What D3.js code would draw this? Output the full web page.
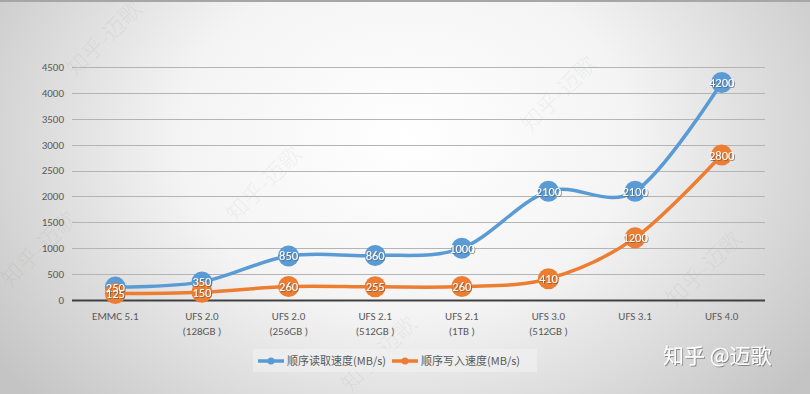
<!DOCTYPE html>
<html>
<head>
<meta charset="utf-8">
<script src="https://cdn.jsdelivr.net/npm/d3@7"></script>
<style>
	body { margin: 0; }
	svg { display: block; }
</style>
</head>
<body>
<svg id="chart" width="810" height="394"></svg>
<script>
const categories = [
	["EMMC 5.1"],
	["UFS 2.0", "(128GB )"],
	["UFS 2.0", "(256GB )"],
	["UFS 2.1", "(512GB )"],
	["UFS 2.1", "(1TB )"],
	["UFS 3.0", "(512GB )"],
	["UFS 3.1"],
	["UFS 4.0"],
]
const readSpeed = [250, 350, 850, 860, 1000, 2100, 2100, 4200]
const writeSpeed = [125, 150, 260, 255, 260, 410, 1200, 2800]
const seriesNames = ["顺序读取速度(MB/s)", "顺序写入速度(MB/s)"]
const yTicks = [0, 500, 1000, 1500, 2000, 2500, 3000, 3500, 4000, 4500]

const config = {
	width: 810,
	height: 394,
	plot: { left: 72, right: 765, top: 67, bottom: 300 },
	colours: ["#5b9bd5", "#ed7d31"],
	markerRadius: 10.5,
	font: "Calibri, 'Liberation Sans Narrow', 'Liberation Sans', Arial, sans-serif",
	cjk: "'Noto Sans CJK SC', 'Microsoft YaHei', sans-serif",
}

const svg = d3.select("#chart")
const defs = svg.append("defs")

// Background: white in the middle, greying to the edges
const bg = defs.append("radialGradient")
	.attr("id", "bg")
	.attr("cx", "50%").attr("cy", "35%")
	.attr("r", "62%")
	.attr("gradientTransform", "translate(0.5,0.35) scale(1,1.6) translate(-0.5,-0.35)")
bg.append("stop").attr("offset", "0%").attr("stop-color", "#ffffff")
bg.append("stop").attr("offset", "45%").attr("stop-color", "#f4f4f4")
bg.append("stop").attr("offset", "100%").attr("stop-color", "#c4c4c4")

const shadow = defs.append("filter").attr("id", "shadow")
	.attr("x", "-20%").attr("y", "-20%").attr("width", "140%").attr("height", "140%")
shadow.append("feDropShadow")
	.attr("dx", 1).attr("dy", 1).attr("stdDeviation", 0.6)
	.attr("flood-color", "#555").attr("flood-opacity", 0.6)

svg.append("rect")
	.attr("width", config.width)
	.attr("height", config.height)
	.attr("fill", "url(#bg)")
svg.append("rect")
	.attr("width", config.width)
	.attr("height", 2)
	.attr("fill", "#a6a6a6")

// Faint diagonal watermarks
const marks = [[105, 40], [265, 185], [560, 95], [705, 270], [380, 355], [40, 250]]
svg.append("g").selectAll("text")
	.data(marks)
	.join("text")
	.attr("transform", d => `translate(${d[0]},${d[1]}) rotate(-45)`)
	.attr("text-anchor", "middle")
	.attr("dominant-baseline", "middle")
	.style("font-family", config.cjk)
	.style("font-size", "22px")
	.attr("fill", "#000")
	.attr("fill-opacity", 0.045)
	.text("知乎-迈歌")

const x = d3.scaleBand()
	.domain(d3.range(categories.length))
	.range([config.plot.left, config.plot.right])
const y = d3.scaleLinear()
	.domain([0, 4500])
	.range([config.plot.bottom, config.plot.top])
const cx = i => x(i) + x.bandwidth() / 2

// Gridlines and y labels
const grid = svg.append("g")
grid.selectAll("line")
	.data(yTicks.slice(1))
	.join("line")
	.attr("x1", config.plot.left).attr("x2", config.plot.right)
	.attr("y1", d => Math.round(y(d)) + 0.5).attr("y2", d => Math.round(y(d)) + 0.5)
	.attr("stroke", "#b4b4b4")
	.attr("stroke-width", 1)
grid.selectAll("text")
	.data(yTicks)
	.join("text")
	.attr("x", 64)
	.attr("y", d => y(d))
	.attr("dy", "0.35em")
	.attr("text-anchor", "end")
	.style("font-family", config.font)
	.style("font-size", "11px")
	.attr("fill", "#595959")
	.text(d => d)

// Baseline
svg.append("line")
	.attr("x1", config.plot.left).attr("x2", config.plot.right)
	.attr("y1", y(0) + 0.5).attr("y2", y(0) + 0.5)
	.attr("stroke", "#404040")
	.attr("stroke-width", 2)

// Category labels
const xLabels = svg.append("g")
	.selectAll("text")
	.data(categories)
	.join("text")
	.attr("x", (d, i) => cx(i))
	.attr("y", 320)
	.attr("text-anchor", "middle")
	.style("font-family", config.font)
	.style("font-size", "11px")
	.attr("fill", "#595959")
xLabels.selectAll("tspan")
	.data(d => d)
	.join("tspan")
	.attr("x", function() { return this.parentNode.getAttribute("x") })
	.attr("dy", (d, i) => i ? 15 : 0)
	.text(d => d)

// Series
const line = d3.line()
	.x((d, i) => cx(i))
	.y(d => y(d))
	.curve(d3.curveCardinal.tension(0))

const series = [readSpeed, writeSpeed]
const groups = svg.append("g")
	.selectAll("g.series")
	.data(series)
	.join("g")
	.attr("class", "series")

groups.append("path")
	.attr("d", d => line(d))
	.attr("fill", "none")
	.attr("stroke", (d, i) => config.colours[i])
	.attr("stroke-width", 3.5)
	.attr("stroke-linecap", "round")

groups.each(function(data, s) {
	d3.select(this).selectAll("circle")
		.data(data)
		.join("circle")
		.attr("cx", (d, i) => cx(i))
		.attr("cy", d => y(d))
		.attr("r", config.markerRadius)
		.attr("fill", config.colours[s])
})

// Data labels sit above every marker
const labels = svg.append("g")
series.forEach(data => {
	labels.append("g").selectAll("text")
		.data(data)
		.join("text")
		.attr("x", (d, i) => cx(i))
		.attr("y", d => y(d))
		.attr("dy", "0.36em")
		.attr("text-anchor", "middle")
		.style("font-family", config.font)
		.style("font-size", "12.5px")
		.attr("fill", "#fff")
		.attr("filter", "url(#shadow)")
		.text(d => d)
})

// Legend
const legend = svg.append("g")
legend.append("rect")
	.attr("x", 253).attr("y", 349)
	.attr("width", 284).attr("height", 23)
	.attr("fill", "#f2f2f2")
	.attr("fill-opacity", 0.6)
const items = legend.selectAll("g")
	.data(seriesNames)
	.join("g")
	.attr("transform", (d, i) => `translate(${i ? 392 : 258}, 361)`)
items.append("line")
	.attr("x1", 0).attr("x2", 26)
	.attr("stroke", (d, i) => config.colours[i])
	.attr("stroke-width", 3.5)
items.append("circle")
	.attr("cx", 13).attr("r", 3.5)
	.attr("fill", (d, i) => config.colours[i])
items.append("text")
	.attr("x", 29)
	.attr("dy", "0.35em")
	.style("font-family", config.cjk)
	.style("font-size", "11px")
	.attr("fill", "#595959")
	.text(d => d)

// Signature
svg.append("text")
	.attr("x", 663)
	.attr("y", 363)
	.style("font-family", config.cjk)
	.style("font-size", "21px")
	.attr("fill", "#fff")
	.attr("filter", "url(#shadow)")
	.text("知乎 @迈歌")
</script>
</body>
</html>
